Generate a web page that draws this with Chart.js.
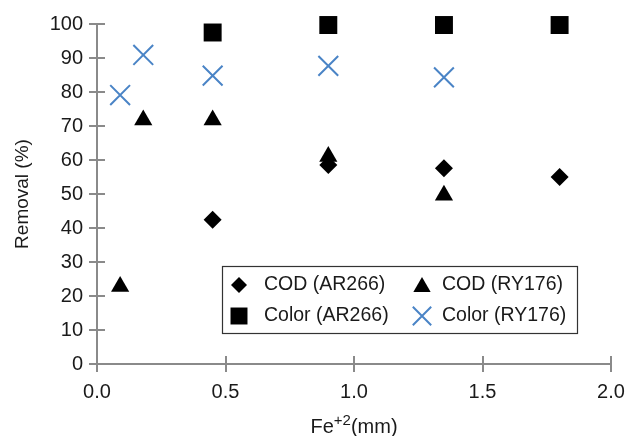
<!DOCTYPE html>
<html>
<head>
<meta charset="utf-8">
<script src="https://cdn.jsdelivr.net/npm/chart.js@4"></script>
<style>
  html, body { margin: 0; padding: 0; background: #fff; }
  #wrap { width: 629px; height: 436px; }
</style>
</head>
<body>
<div id="wrap"><canvas id="myChart" width="629" height="436"></canvas></div>
<script>
const codAR266X = [0.45, 0.9, 1.35, 1.8]
const codAR266Y = [42.4, 58.5, 57.6, 55]
const codRY176X = [0.09, 0.18, 0.45, 0.9, 1.35]
const codRY176Y = [22.8, 71.8, 71.8, 61, 49.6]
const colorAR266X = [0.45, 0.9, 1.35, 1.8]
const colorAR266Y = [97.5, 99.7, 99.7, 99.7]
const colorRY176X = [0.09, 0.18, 0.45, 0.9, 1.35]
const colorRY176Y = [79.1, 90.9, 84.8, 87.7, 84.3]
const seriesNames = ['COD (AR266)', 'COD (RY176)', 'Color (AR266)', 'Color (RY176)']

const FONT = "'Liberation Sans', Arial, Helvetica, sans-serif"
const AXIS_GREY = '#8a8a8a'
const BLUE = '#4a84c6'

function toPoints (xs, ys) {
    return xs.map((x, i) => ({ x: x, y: ys[i] }))
}

// ticks that cross the axis line, plus the x title with a superscript
const axisExtras = {
    id: 'axisExtras',
    afterDraw (chart) {
        const ctx = chart.ctx
        const xs = chart.scales.x
        const ys = chart.scales.y
        const area = chart.chartArea
        ctx.save()
        ctx.strokeStyle = AXIS_GREY
        ctx.lineWidth = 2
        ctx.beginPath()
        ys.ticks.forEach(t => {
            let py = Math.round(ys.getPixelForValue(t.value))
            ctx.moveTo(area.left, py)
            ctx.lineTo(area.left + 8, py)
        })
        xs.ticks.forEach(t => {
            let px = Math.round(xs.getPixelForValue(t.value))
            ctx.moveTo(px, area.bottom)
            ctx.lineTo(px, area.bottom - 8)
        })
        ctx.stroke()

        // x title: Fe+2(mm)
        ctx.fillStyle = '#1a1a1a'
        ctx.textBaseline = 'alphabetic'
        ctx.textAlign = 'left'
        const big = '20px ' + FONT
        const small = '15px ' + FONT
        ctx.font = big
        let w1 = ctx.measureText('Fe').width
        let w3 = ctx.measureText('(mm)').width
        ctx.font = small
        let w2 = ctx.measureText('+2').width
        let total = w1 + w2 + w3
        let x0 = (area.left + area.right) / 2 - total / 2
        let base = 433
        ctx.font = big
        ctx.fillText('Fe', x0, base)
        ctx.font = small
        ctx.fillText('+2', x0 + w1, base - 8)
        ctx.font = big
        ctx.fillText('(mm)', x0 + w1 + w2, base)
        ctx.restore()
    }
}

// legend box inside the plot, two columns
const boxLegend = {
    id: 'boxLegend',
    afterDraw (chart) {
        const ctx = chart.ctx
        const left = 222, top = 266, right = 577, bottom = 333
        ctx.save()
        ctx.fillStyle = '#fff'
        ctx.fillRect(left, top, right - left, bottom - top)
        ctx.strokeStyle = '#333'
        ctx.lineWidth = 1.2
        ctx.strokeRect(left + 0.5, top + 0.5, right - left, bottom - top)
        const colMarker = [239, 422]
        const colText = [264, 442]
        const rowY = [285, 316]
        chart.data.datasets.forEach((ds, i) => {
            let col = i % 2
            let row = Math.floor(i / 2)
            ctx.fillStyle = ds.backgroundColor
            ctx.strokeStyle = ds.borderColor
            ctx.lineWidth = ds.borderWidth
            let opts = { pointStyle: ds.pointStyle, radius: ds.legendRadius, rotation: 0, borderWidth: ds.borderWidth }
            let dy = ds.pointStyle === 'triangle' ? 2 : 0
            Chart.helpers.drawPoint(ctx, opts, colMarker[col], rowY[row] + dy)
            ctx.fillStyle = '#1a1a1a'
            ctx.font = '19.5px ' + FONT
            ctx.textBaseline = 'middle'
            ctx.textAlign = 'left'
            ctx.fillText(ds.label, colText[col], rowY[row])
        })
        ctx.restore()
    }
}

var ctx = document.getElementById('myChart').getContext('2d')
var myChart = new Chart(ctx, {
    type: 'scatter',
    data: {
        datasets: [
            {
                label: seriesNames[0],
                data: toPoints(codAR266X, codAR266Y),
                pointStyle: 'rectRot',
                pointRadius: 9,
                legendRadius: 8,
                backgroundColor: '#000',
                borderColor: '#000',
                borderWidth: 0,
                clip: false,
            },
            {
                label: seriesNames[1],
                data: toPoints(codRY176X, codRY176Y),
                pointStyle: 'triangle',
                pointRadius: 10.5,
                legendRadius: 10,
                backgroundColor: '#000',
                borderColor: '#000',
                borderWidth: 0,
                clip: false,
            },
            {
                label: seriesNames[2],
                data: toPoints(colorAR266X, colorAR266Y),
                pointStyle: 'rect',
                pointRadius: 12.7,
                legendRadius: 12,
                backgroundColor: '#000',
                borderColor: '#000',
                borderWidth: 0,
                clip: false,
            },
            {
                label: seriesNames[3],
                data: toPoints(colorRY176X, colorRY176Y),
                pointStyle: 'crossRot',
                pointRadius: 14,
                legendRadius: 13,
                backgroundColor: BLUE,
                borderColor: BLUE,
                borderWidth: 2,
                clip: false,
            },
        ]
    },
    options: {
        responsive: false,
        animation: false,
        layout: { padding: { left: 7, top: 24, right: 18, bottom: 16 } },
        plugins: {
            legend: { display: false },
            tooltip: { enabled: false },
        },
        scales: {
            x: {
                type: 'linear',
                min: 0,
                max: 2,
                afterFit: scale => {
                    scale.height = 56
                    scale.paddingRight = 0
                    scale.paddingLeft = 0
                },
                ticks: {
                    stepSize: 0.5,
                    color: '#1a1a1a',
                    font: { family: FONT, size: 20 },
                    padding: 8,
                    maxRotation: 0,
                    callback: v => v.toFixed(1),
                },
                grid: { drawOnChartArea: false, color: AXIS_GREY, lineWidth: 2, tickLength: 8 },
                border: { color: AXIS_GREY, width: 2 },
                title: { display: false },
            },
            y: {
                type: 'linear',
                min: 0,
                max: 100,
                afterFit: scale => { scale.width = 90 },
                ticks: {
                    stepSize: 10,
                    color: '#1a1a1a',
                    font: { family: FONT, size: 20 },
                    padding: 6,
                },
                grid: { drawOnChartArea: false, color: AXIS_GREY, lineWidth: 2, tickLength: 8 },
                border: { color: AXIS_GREY, width: 2 },
                title: {
                    display: true,
                    text: 'Removal (%)',
                    color: '#1a1a1a',
                    font: { family: FONT, size: 19 },
                    padding: { top: 4, bottom: 4 },
                },
            },
        }
    },
    plugins: [axisExtras, boxLegend]
})
</script>
</body>
</html>
